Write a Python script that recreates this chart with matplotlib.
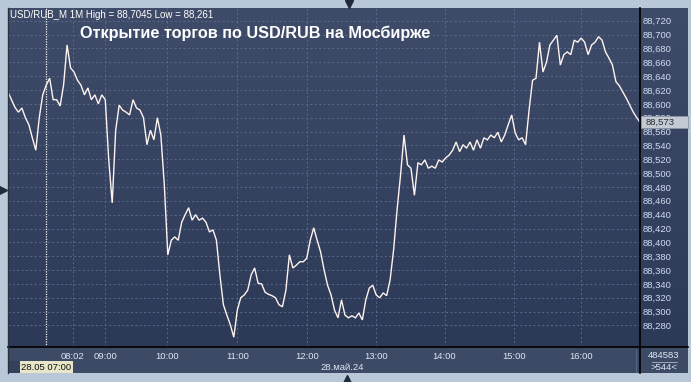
import numpy as np
import matplotlib

matplotlib.use("Agg")
import matplotlib.pyplot as plt
from matplotlib.colors import LinearSegmentedColormap
from matplotlib.lines import Line2D
from matplotlib.patches import Rectangle

W, H = 691, 382

# close prices, one sample every 3 one-minute bars
PRICES = [
    88.617, 88.606, 88.595, 88.588, 88.594, 88.580, 88.570, 88.551, 88.533, 88.580,
    88.613, 88.627, 88.637, 88.606, 88.606, 88.597, 88.627, 88.685, 88.652, 88.646,
    88.634, 88.627, 88.613, 88.623, 88.606, 88.613, 88.600, 88.613, 88.606, 88.519,
    88.457, 88.562, 88.598, 88.591, 88.588, 88.584, 88.606, 88.594, 88.591, 88.580,
    88.541, 88.562, 88.548, 88.580, 88.555, 88.483, 88.382, 88.403, 88.408, 88.403,
    88.429, 88.440, 88.450, 88.432, 88.440, 88.432, 88.435, 88.429, 88.415, 88.418,
    88.403, 88.353, 88.310, 88.295, 88.281, 88.263, 88.302, 88.320, 88.324, 88.331,
    88.353, 88.363, 88.341, 88.340, 88.328, 88.325, 88.323, 88.320, 88.310, 88.307,
    88.331, 88.382, 88.363, 88.367, 88.372, 88.372, 88.377, 88.403, 88.421, 88.403,
    88.386, 88.360, 88.338, 88.324, 88.302, 88.291, 88.317, 88.295, 88.291, 88.294,
    88.291, 88.298, 88.288, 88.317, 88.334, 88.338, 88.324, 88.320, 88.327, 88.323,
    88.346, 88.389, 88.447, 88.497, 88.555, 88.512, 88.507, 88.468, 88.515, 88.512,
    88.519, 88.507, 88.510, 88.507, 88.519, 88.516, 88.522, 88.526, 88.533, 88.545,
    88.531, 88.541, 88.536, 88.545, 88.533, 88.548, 88.536, 88.551, 88.548, 88.555,
    88.551, 88.559, 88.545, 88.555, 88.570, 88.584, 88.558, 88.548, 88.551, 88.541,
    88.591, 88.634, 88.637, 88.689, 88.646, 88.660, 88.685, 88.692, 88.699, 88.656,
    88.671, 88.675, 88.671, 88.692, 88.689, 88.695, 88.689, 88.671, 88.685, 88.689,
    88.697, 88.692, 88.675, 88.666, 88.656, 88.632, 88.626, 88.617, 88.608, 88.598,
    88.588, 88.580, 88.573,
]
BARS_PER_SAMPLE = 3

TICK_BARS = [56, 84, 137, 198, 258, 318, 377, 437, 495]
TICK_LABELS = ["08:02", "09:00", "10:00", "11:00", "12:00", "13:00", "14:00", "15:00", "16:00"]
SESSION_BAR = 33
SESSION_LABEL = "28.05 07:00"
DATE_LABEL = "28.май.24"

SYMBOL = "USD/RUB_M 1M"
HIGH = "88,7045"
LOW = "88,261"
LAST = PRICES[-1]
VOLUME = "484583"
BAR_COUNT = ">544<"
TITLE = "Открытие торгов по USD/RUB на Мосбирже"

Y_MIN, Y_MAX = 88.2489, 88.7384
X_MAX = 545.8

plt.rcParams["font.family"] = ["Liberation Sans", "DejaVu Sans"]


def fx(px):
    return px / W


def fy(py):
    return 1 - py / H


def fmt_price(v):
    return f"{v:.3f}".replace(".", ",")


fig = plt.figure(figsize=(W / 100, H / 100), dpi=100, facecolor="#b9c8d9")

# bottom time panel (under the axes so tick labels stay visible)
fig.patches.append(Rectangle((fx(8), fy(373)), fx(680), 26 / H, transform=fig.transFigure,
                             facecolor="#3d4a66", edgecolor="none", zorder=-2))
fig.patches.append(Rectangle((fx(8), fy(373)), fx(12), 12 / H, transform=fig.transFigure,
                             facecolor="#34415c", edgecolor="none", zorder=-1))

# gradient background for plot + right price panel
bg = fig.add_axes([fx(8), fy(347), fx(680), 339 / H])
bg.set_zorder(-1)
cmap = LinearSegmentedColormap.from_list("bg", ["#3f4c69", "#2c3957"])
bg.imshow(np.linspace(0, 1, 256).reshape(-1, 1), cmap=cmap, aspect="auto", extent=[0, 1, 0, 1])
bg.set_axis_off()

ax = fig.add_axes([fx(8), fy(347), fx(632), 339 / H])
ax.set_facecolor("none")
x = np.arange(len(PRICES)) * BARS_PER_SAMPLE
ax.plot(x, PRICES, color="#fff3ef", lw=1.0, solid_joinstyle="miter", zorder=3)
ax.axvline(SESSION_BAR, color="#f2f2f2", lw=0.9, linestyle=(0, (1, 1)), zorder=2)

y_ticks = np.round(np.arange(88.28, 88.7201, 0.02), 2)
ax.set_yticks(y_ticks, [fmt_price(v) for v in y_ticks])
ax.set_xticks(TICK_BARS, TICK_LABELS)
ax.yaxis.tick_right()
ax.tick_params(axis="y", length=0, pad=2, labelsize=6.8, labelcolor="#cfdcf2")
ax.tick_params(axis="x", length=0, pad=3.5, labelsize=6.8, labelcolor="#dce6f4")
ax.grid(True, color="#586a8c", lw=0.7, linestyle=(0, (2, 2.5)))
ax.set_xlim(0, X_MAX)
ax.set_ylim(Y_MIN, Y_MAX)
for s in ax.spines.values():
    s.set_visible(False)

# panel borders
fig.add_artist(Line2D([fx(8), fx(688)], [fy(347), fy(347)], color="black", lw=1.2))
fig.add_artist(Line2D([fx(640), fx(640)], [fy(8), fy(373)], color="black", lw=1.2))
fig.add_artist(Line2D([fx(7.5), fx(7.5)], [fy(8), fy(373)], color="#2a3040", lw=1))
fig.add_artist(Line2D([fx(636), fx(636)], [fy(350), fy(372)], color="#5a6782", lw=0.8))
fig.add_artist(Line2D([fx(652), fx(677)], [fy(362), fy(362)], color="#aab6c8", lw=0.6))

# texts
fig.text(fx(10), fy(15), f"{SYMBOL} High = {HIGH} Low = {LOW}", color="white",
         fontsize=7, va="center", ha="left")
fig.text(fx(80), fy(33), TITLE, color="white", fontsize=11.7, fontweight="bold",
         va="center", ha="left")
fig.text(fx(342), fy(367), DATE_LABEL, color="#dce6f4", fontsize=6.8, va="center", ha="center")
fig.text(fx(46.5), fy(367), SESSION_LABEL, color="#111111", fontsize=6.8, va="center",
         ha="center", bbox=dict(boxstyle="square,pad=0.15", facecolor="#e9e5c8", edgecolor="none"))
fig.text(fx(664), fy(355), VOLUME, color="#dce6f4", fontsize=6.8, va="center", ha="center")
fig.text(fx(664), fy(367.5), BAR_COUNT, color="#dce6f4", fontsize=6.8, va="center", ha="center")

# last price marker
fig.patches.append(Rectangle((fx(641), fy(128)), fx(47), 12 / H, transform=fig.transFigure,
                             facecolor="#c3cad3", edgecolor="#8d96a3", lw=0.6, zorder=5))
fig.text(fx(646), fy(122), fmt_price(LAST), color="#2b2b2b", fontsize=6.8, va="center",
         ha="left", zorder=6)
fig.add_artist(Line2D([fx(644)], [fy(122)], marker="<", markersize=3.5, color="#c87a2a", lw=0))

# scroll markers
fig.add_artist(Line2D([fx(349)], [fy(3.5)], marker="v", markersize=6, color="#1f2a3b", lw=0))
fig.add_artist(Line2D([fx(3)], [fy(190)], marker=">", markersize=6, color="#1f2a3b", lw=0))
fig.add_artist(Line2D([fx(347)], [fy(378.5)], marker="^", markersize=6, color="#1f2a3b", lw=0))

fig.savefig("out.png", dpi=100, facecolor=fig.get_facecolor())
